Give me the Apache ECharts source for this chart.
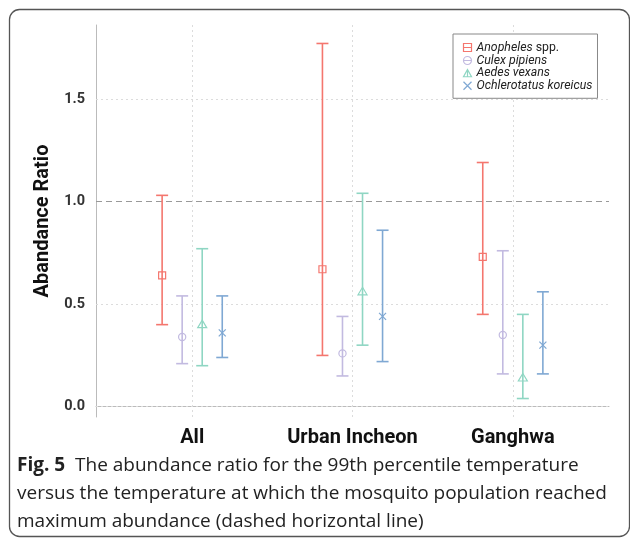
<!DOCTYPE html>
<html>
<head>
<meta charset="utf-8">
<script src="https://cdn.jsdelivr.net/npm/echarts@6/dist/echarts.min.js"></script>
<style>
  html, body { margin: 0; padding: 0; background: #fff; }
  #main { width: 630px; height: 540px; }
</style>
</head>
<body>
<div id="main"></div>
<script>
// categories on x
var categories = ['All', 'Urban Incheon', 'Ganghwa'];
var species = ['Anopheles', 'Culex pipiens', 'Aedes vexans', 'Ochlerotatus koreicus'];
var yTicks = [0, 0.5, 1.0, 1.5];
var refLine = 1.0;

// lower / point / upper for each region
var anophelesLow = [0.40, 0.25, 0.45];
var anophelesMid = [0.64, 0.67, 0.73];
var anophelesHigh = [1.03, 1.77, 1.19];
var culexLow = [0.21, 0.15, 0.16];
var culexMid = [0.34, 0.26, 0.35];
var culexHigh = [0.54, 0.44, 0.76];
var aedesLow = [0.20, 0.30, 0.04];
var aedesMid = [0.40, 0.56, 0.14];
var aedesHigh = [0.77, 1.04, 0.45];
var ochlLow = [0.24, 0.22, 0.16];
var ochlMid = [0.36, 0.44, 0.30];
var ochlHigh = [0.54, 0.86, 0.56];

var colors = ['#F4766E', '#C2BAE0', '#8FD6C3', '#7FA8D3'];
var dodge = [-0.1875, -0.0625, 0.0625, 0.1875];

function build(low, mid, high) {
  var out = [];
  for (var i = 0; i < categories.length; i++) {
    out.push([i + 1, low[i], mid[i], high[i]]);
  }
  return out;
}
var seriesData = [
  build(anophelesLow, anophelesMid, anophelesHigh),
  build(culexLow, culexMid, culexHigh),
  build(aedesLow, aedesMid, aedesHigh),
  build(ochlLow, ochlMid, ochlHigh)
];

function renderItem(params, api) {
  var k = params.seriesIndex;
  var c = colors[k];
  var x = api.value(0) + dodge[k];
  var pLo = api.coord([x, api.value(1)]);
  var pMid = api.coord([x, api.value(2)]);
  var pHi = api.coord([x, api.value(3)]);
  var cap = 6;
  var ls = { stroke: c, lineWidth: 1.6 };
  var kids = [
    { type: 'line', shape: { x1: pLo[0], y1: pLo[1], x2: pHi[0], y2: pHi[1] }, style: ls },
    { type: 'line', shape: { x1: pLo[0] - cap, y1: pLo[1], x2: pLo[0] + cap, y2: pLo[1] }, style: ls },
    { type: 'line', shape: { x1: pHi[0] - cap, y1: pHi[1], x2: pHi[0] + cap, y2: pHi[1] }, style: ls }
  ];
  var mx = pMid[0], my = pMid[1];
  var ms = { stroke: c, lineWidth: 1.2, fill: 'none' };
  if (k === 0) {
    kids.push({ type: 'rect', shape: { x: mx - 3.5, y: my - 3.5, width: 7, height: 7 }, style: ms });
  } else if (k === 1) {
    kids.push({ type: 'circle', shape: { cx: mx, cy: my, r: 3.6 }, style: ms });
  } else if (k === 2) {
    kids.push({ type: 'polygon', shape: { points: [[mx, my - 4.5], [mx + 4.5, my + 3], [mx - 4.5, my + 3]] }, style: ms });
  } else {
    kids.push({ type: 'line', shape: { x1: mx - 3.5, y1: my - 3.5, x2: mx + 3.5, y2: my + 3.5 }, style: ms });
    kids.push({ type: 'line', shape: { x1: mx - 3.5, y1: my + 3.5, x2: mx + 3.5, y2: my - 3.5 }, style: ms });
  }
  return { type: 'group', children: kids };
}

var icons = [
  'path://M0,0H10V10H0Z M0,5H10',
  'path://M5,0A5,5,0,1,1,4.99,0Z M0,5H10',
  'path://M5,0L10,9H0Z M5,0V9',
  'path://M0,0L10,10 M0,10L10,0'
];

var gridLines = [];
for (var i = 0; i < yTicks.length; i++) {
  if (yTicks[i] !== refLine) gridLines.push({ yAxis: yTicks[i] });
}
for (var j = 0; j < categories.length; j++) gridLines.push({ xAxis: j + 1 });

var series = [];
for (var s = 0; s < species.length; s++) {
  series.push({
    type: 'custom',
    name: species[s],
    renderItem: renderItem,
    data: seriesData[s],
    encode: { x: 0, y: [1, 2, 3] },
    itemStyle: { color: colors[s] },
    z: 3
  });
}
series[0].markLine = {
  silent: true, symbol: 'none', label: { show: false }, z: 1,
  lineStyle: { color: '#dcdcdc', type: [2, 3], width: 1 },
  data: gridLines.concat([{ yAxis: refLine, lineStyle: { color: '#999', type: [6, 4], width: 1.2 } }])
};

var chart = echarts.init(document.getElementById('main'));
chart.setOption({
  animation: false,
  backgroundColor: '#fff',
  textStyle: { fontFamily: 'Roboto' },
  grid: { left: 96, top: 25, right: 21, bottom: 123 },
  legend: {
    orient: 'vertical',
    left: 453, top: 34,
    padding: [7, 5, 6, 8],
    itemGap: 0,
    itemWidth: 8, itemHeight: 8,
    borderColor: '#888', borderWidth: 1, backgroundColor: '#fff',
    data: species.map(function (n, i) {
      return { name: n, icon: icons[i], itemStyle: { color: 'none', borderColor: colors[i], borderWidth: 1.2 } };
    }),
    formatter: function (n) {
      if (n === 'Anopheles') return '{i|Anopheles} {n|spp.}';
      return '{i|' + n + '}';
    },
    textStyle: {
      color: '#222', fontSize: 12.3, lineHeight: 12.3,
      rich: {
        i: { fontStyle: 'italic', fontSize: 12.3, lineHeight: 12.3, color: '#222', fontFamily: 'Roboto' },
        n: { fontSize: 12.3, lineHeight: 12.3, color: '#222', fontFamily: 'Roboto' }
      }
    }
  },
  xAxis: {
    type: 'value', min: 0.4, max: 3.6,
    axisLine: { show: true, lineStyle: { color: '#bbb', width: 1 } },
    axisTick: { show: false },
    splitLine: { show: false },
    axisLabel: {
      customValues: [1, 2, 3],
      formatter: function (v) { return categories[Math.round(v) - 1] || ''; },
      color: '#111', fontSize: 20, fontWeight: 'bold', margin: 11
    }
  },
  yAxis: {
    type: 'value', min: -0.05, max: 1.86,
    name: 'Abandance Ratio', nameLocation: 'middle', nameGap: 43,
    nameTextStyle: { color: '#111', fontSize: 20, fontWeight: 'bold' },
    axisLine: { show: true, lineStyle: { color: '#bbb', width: 1 } },
    axisTick: { show: false },
    splitLine: { show: false },
    axisLabel: {
      customValues: yTicks,
      formatter: function (v) { return v.toFixed(1); },
      color: '#333', fontSize: 14.5, fontWeight: 'bold', margin: 11
    }
  },
  graphic: [
    {
      type: 'rect', silent: true,
      shape: { x: 9.5, y: 9.5, width: 620, height: 527, r: 10 },
      style: { fill: 'none', stroke: '#555', lineWidth: 1.3 }
    },
    {
      type: 'text', left: 17, top: 456,
      style: {
        text: '{b|Fig. 5}  The abundance ratio for the 99th percentile temperature',
        font: '19px "Open Sans"', fill: '#222',
        rich: { b: { fontWeight: 'bold', fontSize: 19, fontFamily: 'Open Sans', fill: '#222' } }
      }
    },
    {
      type: 'text', left: 17, top: 484,
      style: { text: 'versus the temperature at which the mosquito population reached', font: '19px "Open Sans"', fill: '#222' }
    },
    {
      type: 'text', left: 17, top: 512,
      style: { text: 'maximum abundance (dashed horizontal line)', font: '19px "Open Sans"', fill: '#222' }
    }
  ],
  series: series
});
</script>
</body>
</html>
